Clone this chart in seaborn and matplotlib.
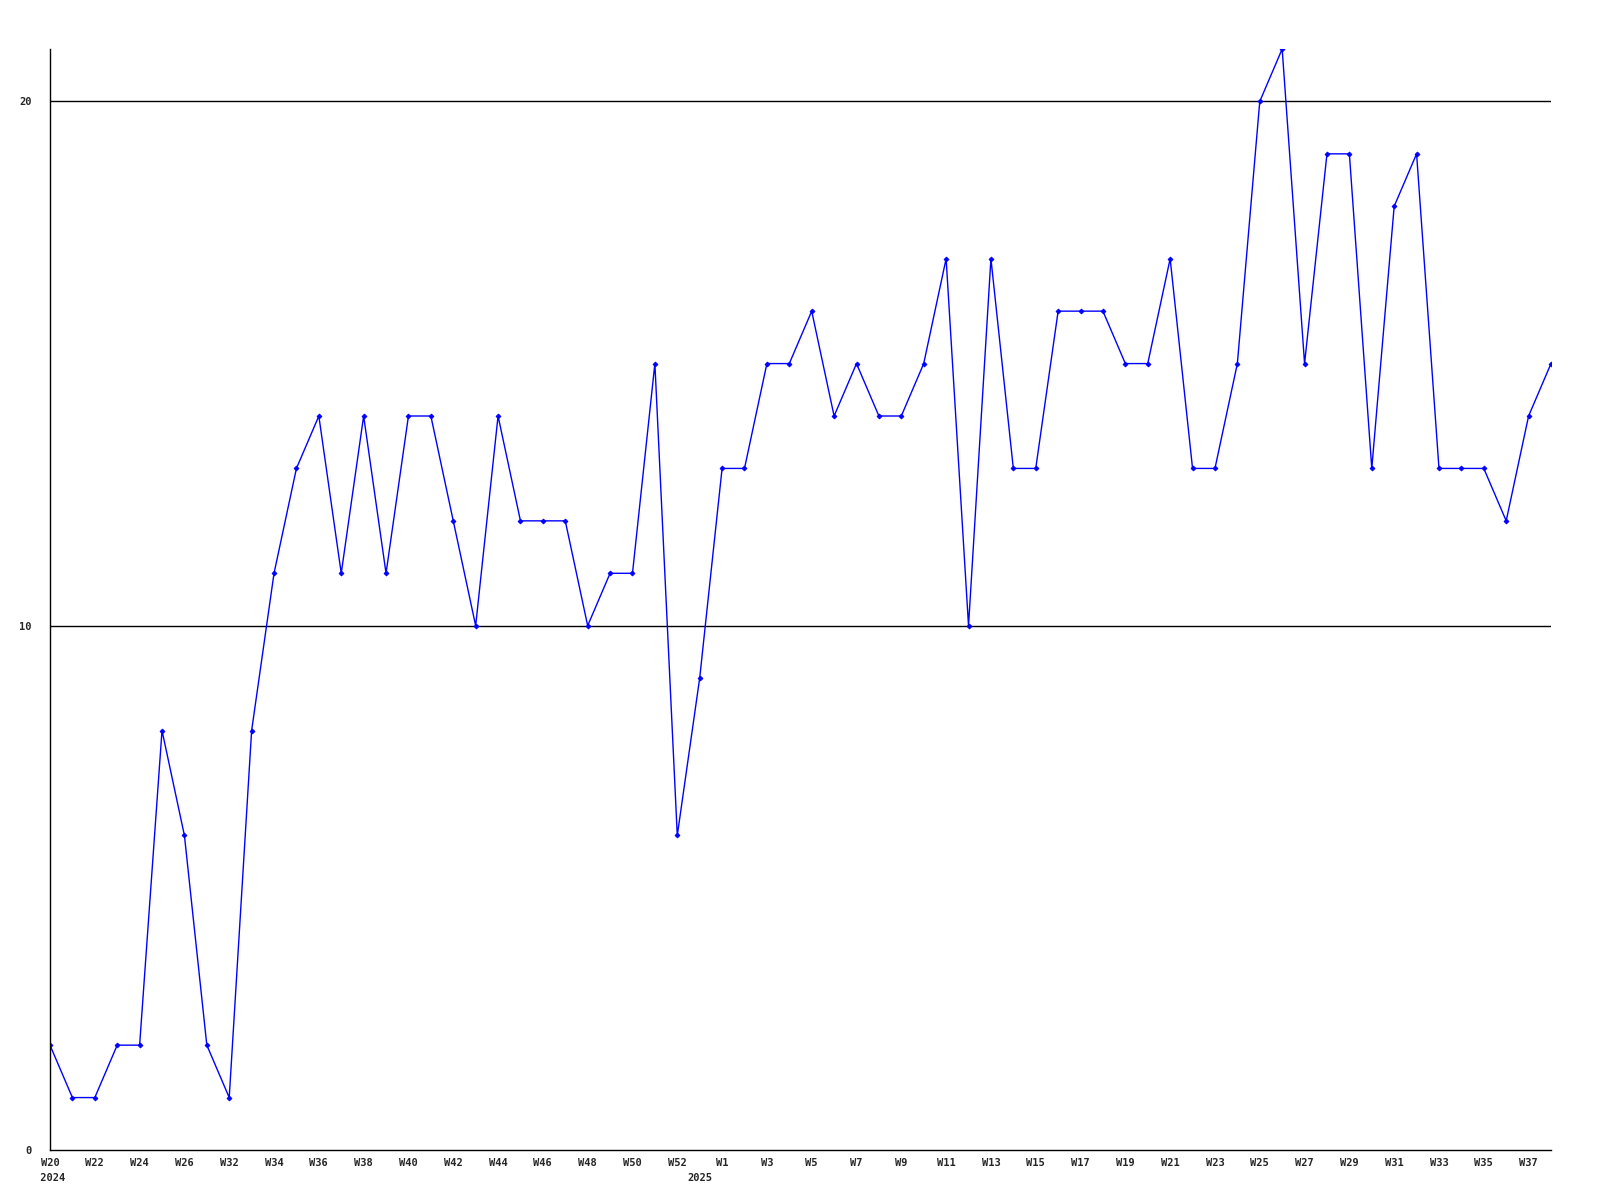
import matplotlib
matplotlib.use("Agg")
import matplotlib.pyplot as plt
import seaborn as sns
import pandas as pd

weeks = ["W20", "W21", "W22", "W23", "W24", "W25", "W26", "W31", "W32", "W33",
         "W34", "W35", "W36", "W37", "W38", "W39", "W40", "W41", "W42", "W43",
         "W44", "W45", "W46", "W47", "W48", "W49", "W50", "W51", "W52", "W53",
         "W1", "W2", "W3", "W4", "W5", "W6", "W7", "W8", "W9", "W10",
         "W11", "W12", "W13", "W14", "W15", "W16", "W17", "W18", "W19", "W20",
         "W21", "W22", "W23", "W24", "W25", "W26", "W27", "W28", "W29", "W30",
         "W31", "W32", "W33", "W34", "W35", "W36", "W37", "W38"]
values = [2, 1, 1, 2, 2, 8, 6, 2, 1, 8,
          11, 13, 14, 11, 14, 11, 14, 14, 12, 10,
          14, 12, 12, 12, 10, 11, 11, 15, 6, 9,
          13, 13, 15, 15, 16, 14, 15, 14, 14, 15,
          17, 10, 17, 13, 13, 16, 16, 16, 15, 15,
          17, 13, 13, 15, 20, 21, 15, 19, 19, 13,
          18, 19, 13, 13, 13, 12, 14, 15]
year_labels = {0: "2024", 29: "2025"}
y_ticks = [0, 10, 20]

df = pd.DataFrame({"idx": range(len(values)), "value": values})

sns.set_style("white")
plt.rcParams['font.family'] = ['DejaVu Sans Mono', 'DejaVu Sans']

fig = plt.figure(figsize=(16, 12), dpi=100)
ax = fig.add_axes([50/1600, 50/1200, 1501/1600, 1101/1200])

sns.lineplot(data=df, x="idx", y="value", ax=ax, color="#0000ff",
             linewidth=1.0, marker="D", markersize=2.5, markeredgewidth=0.6,
             markeredgecolor="#0000ff", markerfacecolor="#0000ff")

for yv in [10, 20]:
    ax.axhline(yv, color="black", linewidth=1.0, zorder=0)

ax.set_xlim(0, len(values) - 1)
ax.set_ylim(0, 21)

tick_pos = list(range(0, len(values) - 1, 2))
tick_lab = [weeks[i] + ("\n " + year_labels[i] if i in year_labels else "") for i in tick_pos]
tick_pos.append(29)
tick_lab.append("\n" + year_labels[29])
ax.set_xticks(tick_pos)
ax.set_xticklabels(tick_lab, fontsize=7.5, fontweight="bold", linespacing=1.6)
ax.set_yticks(y_ticks)
ax.set_yticklabels([str(v) for v in y_ticks], fontsize=7.5, fontweight="bold")
ax.tick_params(axis="x", length=0, pad=6)
ax.tick_params(axis="y", length=0, pad=13)
ax.set_xlabel("")
ax.set_ylabel("")

for s in ["top", "right"]:
    ax.spines[s].set_visible(False)
for s in ["left", "bottom"]:
    ax.spines[s].set_color("black")
    ax.spines[s].set_linewidth(1.0)

fig.savefig("out.png", dpi=100)
